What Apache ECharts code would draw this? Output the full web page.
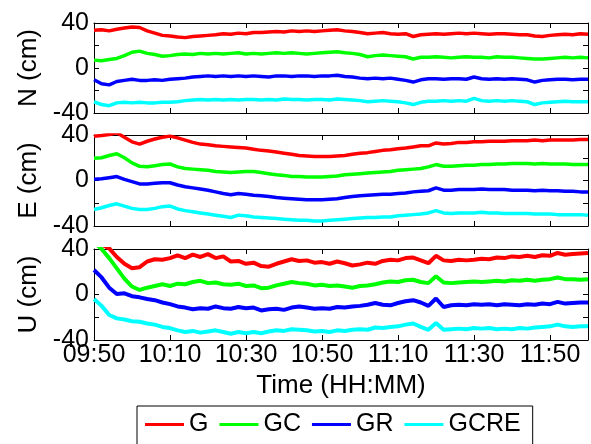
<!DOCTYPE html>
<html><head><meta charset="utf-8">
<script src="https://cdn.jsdelivr.net/npm/echarts@6/dist/echarts.min.js"></script>
<style>html,body{margin:0;padding:0;background:#fff}#c{width:591px;height:444px}</style>
</head><body><div id="c"></div>
<script>
// minutes after 09:50
const minutes = [0,2,4,6,8,10,12,14,16,18,20,22,24,26,28,30,32,34,36,38,40,42,44,46,48,50,52,54,56,58,60,62,64,66,68,70,72,74,76,78,80,82,84,86,88,90,92,94,96,98,100,102,104,106,108,110,112,114,116,118,120,122,124,126,128,130];
const xTickLabels = ['09:50','10:10','10:30','10:50','11:10','11:30','11:50'];
const yTickLabels = ['-40','0','40'];
const seriesNames = ['G','GC','GR','GCRE'];
const panelNames = ['N (cm)','E (cm)','U (cm)'];
const xTitle = 'Time (HH:MM)';

const N_G = [33.5,34,33,34.5,35.5,36.5,36,33,31,29,
28.5,27.5,27,28,28.5,29,29.5,30.5,30,31,
30.5,31.5,31.5,32,32.5,32,33,32.5,33,32.5,
33,33.5,34,33,32.5,31.5,30.5,31,31.5,30.5,
30,30.5,28,29.5,30,30.5,30,30.5,31,30.5,
31,30.5,30,30.5,30.5,30,29.5,29.5,28.5,28,
29,29.5,30,29.5,30.5,30];
const N_GC = [7,6.5,7.5,8.5,11,14,15,13,12,10.5,
11,12,12.5,12,13,12.5,13,12.5,13,13.5,
12.5,13,12.5,13,13.5,13,13.5,13,12.5,13,
13.5,14,14.5,13.5,13,12,10,11,11.5,11,
10.5,10,8,9.5,9.5,10,9.5,9,9.5,10,
9.5,9.5,9,10,9.5,9.5,9,8.5,8,8,
8.5,9,9.5,9,9.5,9];
const N_GR = [-10.5,-14,-15,-12,-11,-10,-11,-11,-10.5,-11,
-10,-9.5,-9,-8,-7.5,-7,-7.5,-7,-7.5,-7,
-7.5,-7,-7.5,-8,-7,-7,-7.5,-7,-7,-7.5,
-7,-7,-6.5,-7.5,-8,-9,-9.5,-9,-9.5,-9,
-10,-11,-12.5,-10.5,-9.5,-9.5,-10,-9.5,-9.5,-10,
-8,-9.5,-10,-9.5,-10,-9.5,-10,-10.5,-12.5,-11,
-10.5,-10,-10,-10.5,-10,-10];
const N_GCRE = [-30,-32.5,-33.5,-31,-30.5,-31,-30.5,-31,-31,-30.5,
-30.5,-30,-29,-28.5,-28,-28.5,-28,-28.5,-28,-28.5,
-28,-28,-28.5,-28,-28.5,-27.5,-28,-28,-28.5,-28,
-28,-28.5,-27.5,-28,-28.5,-29,-30,-29.5,-29,-29.5,
-30,-31,-32.5,-30.5,-29.5,-29.5,-29,-29.5,-29,-29.5,
-27,-29,-29.5,-29,-29.5,-29,-29.5,-30,-32.5,-31,
-30.5,-30,-29.5,-30,-30,-30];

const E_G = [39,39.5,40.5,42,38,34,32,34.5,36.5,38,
39,37.5,35.5,33.5,32,31.5,30.5,30,29.5,29,
28.5,27.5,26.5,26,25,24,23,22,21.5,21,
21,21,21.5,22,23,24,24.5,25.5,26.5,27,
28,28.5,29.5,30.5,30.5,33,32,32.5,33.5,33.5,
34,34,34.5,34.5,34.5,35,35,35,35.5,35,
35.5,35.5,35.5,35.5,36,36];
const E_GC = [19.5,20,22,23.5,20,15.5,12.5,12,13,14,
14.5,12,10.5,10,9.5,9,8,7.5,7,7.5,
8,8,7,6,5,4.5,3.5,3.5,3,3,
3,3.5,4,5,5.5,6,6.5,7,7.5,8,
9,9.5,10,10.5,12,14,12.5,12.5,13,13.5,
13.5,14,14,14.5,14.5,15,15,15,14.5,15,
14.5,14.5,14.5,14,14,14];
const E_GR = [1,1.5,2.5,3.5,1,-1,-3,-3,-2.5,-2,
-2,-4,-5.5,-6.5,-7.5,-8.5,-10,-11.5,-12.5,-11.5,
-12,-13,-13.5,-14,-15,-15.5,-16,-16.5,-17,-17,
-17,-16.5,-16,-15,-14,-13.5,-13,-12.5,-12,-12,
-11.5,-11,-10,-9.5,-9,-6.5,-8.5,-8.5,-8,-8,
-8,-7.5,-8,-8,-8,-8.5,-8.5,-8.5,-9,-8.5,
-9,-9,-9.5,-9.5,-10,-10];
const E_GCRE = [-25.5,-24,-22,-20.5,-22.5,-24.5,-25.5,-25.5,-24.5,-23,
-22.5,-25,-26.5,-27.5,-28.5,-29.5,-30.5,-31.5,-32.5,-30.5,
-31,-32,-32.5,-33,-33.5,-34,-34.5,-35,-35,-35.5,
-35.5,-35,-34.5,-34,-33.5,-33,-32.5,-32.5,-32,-32,
-31,-30.5,-30,-29.5,-28.5,-26.5,-28.5,-29,-28.5,-28.5,
-28.5,-28,-28.5,-28.5,-29,-29,-29,-29,-29.5,-29.5,
-29.5,-30,-30,-30,-30,-30.5];

const U_G = [48,44,40.5,33,27,23,24,29,31,30.5,
32,34.5,32,35,33,35.5,32,33.5,29,29.5,
27,28,25,24.5,27,29,31,29.5,30,28,
28.5,27,29,27.5,25.5,26.5,28,27,29.5,30.5,
30,32,32.5,30,27.5,34,30,29.5,30.5,30,
30.5,31.5,31,32.5,32,33.5,33,34,33,34.5,
34,36.5,35,35.5,36,36.5];
const U_GC = [46,40,32,23,14,7,4,6,7.5,9,
7.5,9.5,9,11,12,10,10.5,9,8.5,9.5,
7.5,8,5.5,6,8,9.5,11,10,9.5,8,
8.5,7.5,8,7,6,7.5,8,9,10.5,11.5,
11,12.5,13,11,10,16,10.5,10,10.5,11,
11.5,11,11.5,12,11.5,12.5,12,13,12,13,
13.5,15,13.5,13.5,13,13.5];
const U_GR = [21.5,15,6,0.5,1,-1.5,-2.5,-4,-5,-7,
-8.5,-10.5,-11.5,-13,-12,-12.5,-10.5,-12,-12.5,-11,
-12,-11.5,-14,-13,-12.5,-13.5,-11.5,-10.5,-11.5,-12.5,
-12,-12.5,-11,-11.5,-10.5,-10,-9,-7.5,-9,-9.5,
-7.5,-6,-5,-7,-10,-3.5,-11,-9.5,-9,-9.5,
-8.5,-9,-8.5,-9.5,-8.5,-9,-9.5,-8.5,-9,-8,
-8.5,-6.5,-8,-7.5,-7,-7];
const U_GCRE = [-4,-10,-18,-21,-22,-23.5,-24,-25.5,-26.5,-28.5,
-29.5,-31.5,-33,-32,-33.5,-32.5,-31.5,-33,-34.5,-33,
-34,-33,-34,-32.5,-31.5,-32,-30.5,-31,-31.5,-32.5,
-32,-33,-31.5,-32,-31,-30.5,-31,-29,-29.5,-28.5,
-28,-26.5,-25.5,-28.5,-31,-25,-31,-30.5,-30,-30.5,
-29.5,-30,-29.5,-30.5,-30,-30.5,-29.5,-30,-29,-28.5,
-28,-26.5,-28,-28.5,-28,-28];

const panels = [[N_G,N_GC,N_GR,N_GCRE],[E_G,E_GC,E_GR,E_GCRE],[U_G,U_GC,U_GR,U_GCRE]];
const colors = ['#ff0000','#00ff00','#0000ff','#00ffff'];
const FONT = 'Liberation Sans, Arial, Helvetica, sans-serif';
const gridTops = [23,135,249];
const gridHeights = [90,91,91];
const lineWidths = [3.5,3.5,4];

const grid = [], xAxis = [], yAxis = [], series = [];
const axisLine = {show:true, onZero:false, lineStyle:{color:'#000', width:1}};
const axisTick = {show:true, inside:true, length:5, lineStyle:{color:'#000', width:1}};
for (let p = 0; p < 3; p++) {
  grid.push({left:94, width:494, top:gridTops[p], height:gridHeights[p], containLabel:false});
  xAxis.push({
    gridIndex:p, type:'value', min:0, max:130, interval:20, position:'bottom',
    axisLine, axisTick, splitLine:{show:false},
    axisLabel:{show:p===2, showMaxLabel:false, margin:3, color:'#000', fontSize:25, fontFamily:FONT,
      formatter: v => { const k = v/20; return (Number.isInteger(k) && xTickLabels[k]) ? xTickLabels[k] : ''; }},
    name: p===2 ? xTitle : '', nameLocation:'middle', nameGap:33,
    nameTextStyle:{color:'#000', fontSize:26, fontFamily:FONT}
  });
  xAxis.push({
    gridIndex:p, type:'value', min:0, max:130, interval:20, position:'top',
    axisLine, axisTick, splitLine:{show:false}, axisLabel:{show:false}
  });
  yAxis.push({
    gridIndex:p, type:'value', min:-40, max:40, interval:20, position:'left',
    axisLine, axisTick, splitLine:{show:false},
    axisLabel:{show:true, margin:5, color:'#000', fontSize:25, fontFamily:FONT,
      formatter: v => { const s = String(v); return yTickLabels.indexOf(s) >= 0 ? s : ''; }},
    name: panelNames[p], nameLocation:'middle', nameGap:47,
    nameTextStyle:{color:'#000', fontSize:26, fontFamily:FONT}
  });
  yAxis.push({
    gridIndex:p, type:'value', min:-40, max:40, interval:20, position:'right',
    axisLine, axisTick, splitLine:{show:false}, axisLabel:{show:false}
  });
  panels[p].forEach((vals, s) => {
    series.push({
      type:'line', name:seriesNames[s], xAxisIndex:2*p, yAxisIndex:2*p,
      data: minutes.map((t, k) => [t, vals[k]]),
      showSymbol:false, symbol:'none', clip:true, silent:true,
      lineStyle:{color:colors[s], width:lineWidths[p]}, itemStyle:{color:colors[s]},
      z: 2
    });
  });
}

const chart = echarts.init(document.getElementById('c'), null, {renderer:'canvas'});
chart.setOption({
  animation:false,
  backgroundColor:'#fff',
  grid, xAxis, yAxis, series,
  legend:{
    data: seriesNames, left:137, top:406, orient:'horizontal', selectedMode:false,
    icon:'rect', itemWidth:39, itemHeight:3, itemGap:11,
    padding:[6,12,12,8], borderColor:'#000', borderWidth:1, backgroundColor:'#fff',
    textStyle:{color:'#000', fontSize:25, fontFamily:FONT}
  }
});
</script>
</body></html>
